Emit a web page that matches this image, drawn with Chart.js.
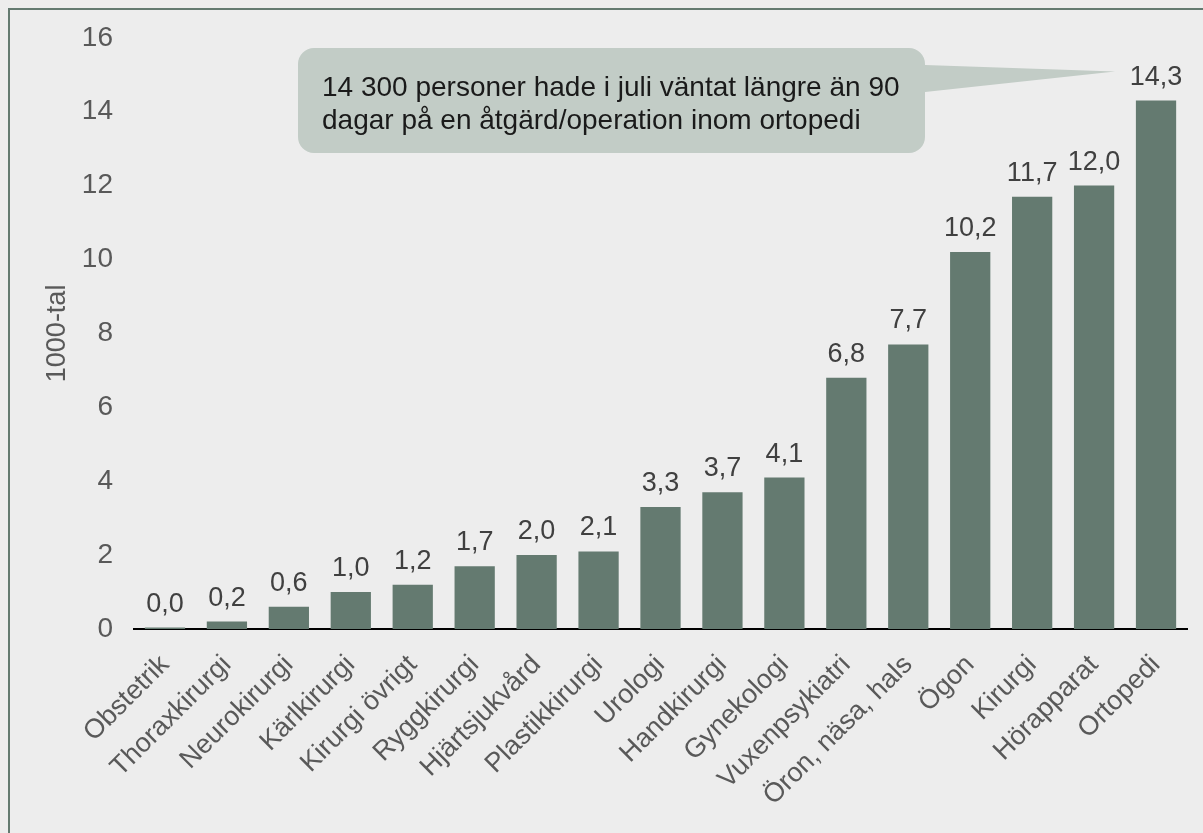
<!DOCTYPE html>
<html>
<head>
<meta charset="utf-8">
<script src="https://cdn.jsdelivr.net/npm/chart.js@4/dist/chart.umd.min.js"></script>
<style>
  html, body { margin: 0; padding: 0; background: #EDEDED; overflow: hidden; }
  #wrap { position: relative; width: 1203px; height: 833px; }
  #frame { position: absolute; left: 8px; top: 8px; width: 1300px; height: 900px;
           border-left: 2px solid #647A70; border-top: 2px solid #647A70; pointer-events: none; }
  canvas { position: absolute; left: 0; top: 0; }
</style>
</head>
<body>
<div id="wrap">
  <canvas id="c" width="1203" height="833"></canvas>
  <div id="frame"></div>
</div>
<script>
const categories = ['Obstetrik','Thoraxkirurgi','Neurokirurgi','Kärlkirurgi','Kirurgi övrigt','Ryggkirurgi','Hjärtsjukvård','Plastikkirurgi','Urologi','Handkirurgi','Gynekologi','Vuxenpsykiatri','Öron, näsa, hals','Ögon','Kirurgi','Hörapparat','Ortopedi'];
const values = [0.04, 0.2, 0.6, 1.0, 1.2, 1.7, 2.0, 2.1, 3.3, 3.7, 4.1, 6.8, 7.7, 10.2, 11.7, 12.0, 14.3];
const yAxisTitle = '1000-tal';
const yTicksMin = 0, yTicksMax = 16, yTicksStep = 2;
const calloutLines = ['14 300 personer hade i juli väntat längre än 90', 'dagar på en åtgärd/operation inom ortopedi'];

const FONT = "'Liberation Sans', Arial, sans-serif";
const fmt = v => v.toFixed(1).replace('.', ',');

const dataLabels = {
  id: 'dataLabels',
  afterDatasetsDraw(chart) {
    const ctx = chart.ctx;
    const meta = chart.getDatasetMeta(0);
    ctx.save();
    ctx.font = '27px ' + FONT;
    ctx.fillStyle = '#404040';
    ctx.textAlign = 'center';
    ctx.textBaseline = 'alphabetic';
    meta.data.forEach((bar, i) => {
      ctx.fillText(fmt(values[i]), bar.x, bar.y - 16);
    });
    ctx.restore();
  }
};

const callout = {
  id: 'callout',
  afterDraw(chart) {
    const ctx = chart.ctx;
    const meta = chart.getDatasetMeta(0);
    const last = meta.data[meta.data.length - 1];
    const x = 298, y = 48, w = 627, h = 105, r = 16;
    const tipX = last.x - 41, tipY = last.y - 29;
    const b1 = 65, b2 = 92;
    ctx.save();
    ctx.beginPath();
    ctx.moveTo(x + r, y);
    ctx.lineTo(x + w - r, y);
    ctx.arcTo(x + w, y, x + w, y + r, r);
    ctx.lineTo(x + w, b1);
    ctx.lineTo(tipX, tipY);
    ctx.lineTo(x + w, b2);
    ctx.lineTo(x + w, y + h - r);
    ctx.arcTo(x + w, y + h, x + w - r, y + h, r);
    ctx.lineTo(x + r, y + h);
    ctx.arcTo(x, y + h, x, y + h - r, r);
    ctx.lineTo(x, y + r);
    ctx.arcTo(x, y, x + r, y, r);
    ctx.closePath();
    ctx.fillStyle = '#C2CCC6';
    ctx.fill();
    ctx.font = '28px ' + FONT;
    ctx.fillStyle = '#1A1A1A';
    ctx.textAlign = 'left';
    ctx.textBaseline = 'alphabetic';
    ctx.fillText(calloutLines[0], 322, 96);
    ctx.fillText(calloutLines[1], 322, 129);
    ctx.restore();
  }
};

new Chart(document.getElementById('c'), {
  type: 'bar',
  data: {
    labels: categories,
    datasets: [{
      data: values,
      backgroundColor: '#647A70',
      borderWidth: 0,
      barPercentage: 0.65,
      categoryPercentage: 1.0
    }]
  },
  options: {
    responsive: false,
    animation: false,
    layout: { padding: { left: 0, top: 37, right: 16, bottom: 0 } },
    plugins: { legend: { display: false }, tooltip: { enabled: false } },
    scales: {
      x: {
        grid: { display: false, drawTicks: false },
        border: { display: true, color: '#000000', width: 2 },
        ticks: {
          color: '#595959',
          font: { family: FONT, size: 27 },
          minRotation: 45, maxRotation: 45,
          padding: 20,
          autoSkip: false
        },
        afterFit(scale) { scale.height = 204; }
      },
      y: {
        min: yTicksMin, max: yTicksMax,
        grid: { display: false, drawTicks: false },
        border: { display: false },
        ticks: {
          stepSize: yTicksStep,
          color: '#595959',
          font: { family: FONT, size: 28 },
          padding: 21
        },
        title: {
          display: true,
          text: yAxisTitle,
          color: '#595959',
          font: { family: FONT, size: 27 },
          padding: { top: 41, bottom: 0 }
        },
        afterFit(scale) { scale.width = 134; }
      }
    }
  },
  plugins: [dataLabels, callout]
});
</script>
</body>
</html>
